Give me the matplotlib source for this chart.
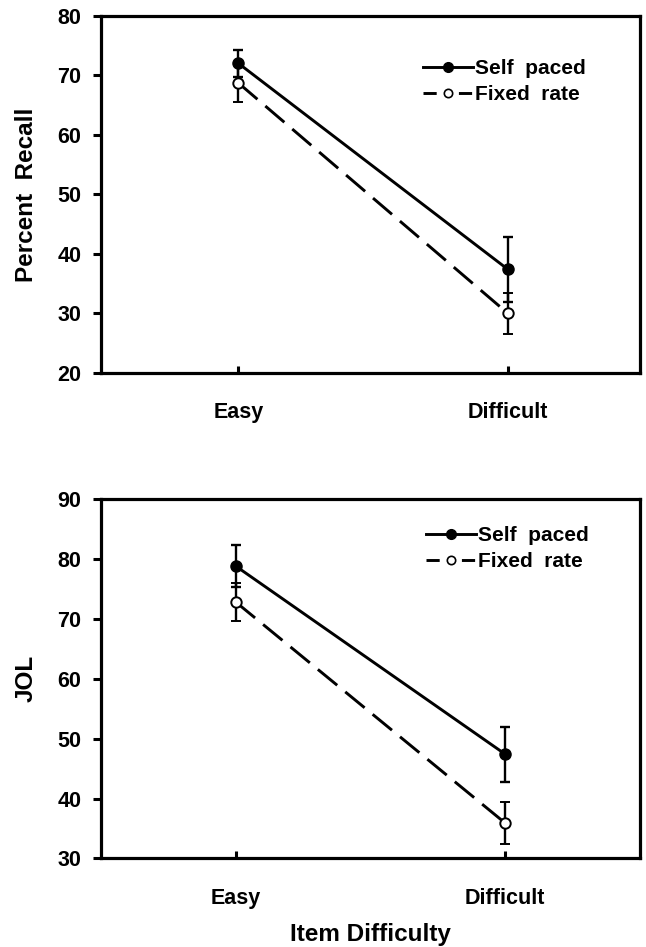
import numpy as np
import matplotlib
matplotlib.use("Agg")
import matplotlib.pyplot as plt
from matplotlib.lines import Line2D

plt.rcParams['font.family'] = ['Liberation Sans', 'DejaVu Sans']
plt.rcParams['font.weight'] = 'bold'
plt.rcParams['lines.scale_dashes'] = False

# data
conditions = ['Easy', 'Difficult']
recall_self = [72.0, 37.4]
recall_self_err = [2.3, 5.4]
recall_fixed = [68.7, 30.0]
recall_fixed_err = [3.2, 3.5]

jol_self = [78.8, 47.4]
jol_self_err = [3.5, 4.6]
jol_fixed = [72.8, 35.9]
jol_fixed_err = [3.1, 3.5]

fig = plt.figure(figsize=(6.46, 9.47), dpi=100)
ax1 = fig.add_axes([0.1563, 0.6061, 0.8344, 0.3773])
ax2 = fig.add_axes([0.1563, 0.0935, 0.8344, 0.3796])

x = np.arange(len(conditions))

def panel(ax, ys, yse, yf, yfe, ylim, ylabel, xlim, leg_anchor):
    ax.errorbar(x, ys, yerr=yse, color='black', lw=2.1, marker='o', ms=8,
                mfc='black', mec='black', elinewidth=1.7, capsize=3.6,
                capthick=1.7, zorder=3)
    h2 = ax.errorbar(x, yf, yerr=yfe, color='black', lw=2.1, marker='o', ms=7.5,
                     mfc='white', mec='black', mew=1.4, elinewidth=1.7,
                     capsize=3.6, capthick=1.7, zorder=4)
    h2.lines[0].set_dashes((18, 7.5))
    ax.set_ylim(*ylim)
    ax.set_xlim(*xlim)
    ax.set_yticks(np.arange(ylim[0], ylim[1] + 1, 10))
    ax.set_xticks(x)
    ax.set_xticklabels(conditions)
    for s in ax.spines.values():
        s.set_linewidth(2.3)
    ax.tick_params(axis='y', direction='out', length=6, width=2.2, pad=8,
                   labelsize=15.5)
    ax.tick_params(axis='x', direction='in', length=5, width=2.2, pad=21,
                   labelsize=15.5)
    ax.set_ylabel(ylabel, fontsize=17.5, fontweight='bold', labelpad=14)
    # legend proxies, the fixed one with short dashes around the marker
    p1 = Line2D([], [], color='black', lw=2.1, marker='o', ms=7, mfc='black')
    p2 = Line2D([], [], color='black', lw=2.1, marker='o', ms=6, mfc='white',
                mew=1.2, dashes=(9.5, 16))
    ax.legend([p1, p2], ['Self  paced', 'Fixed  rate'], loc='center left',
              bbox_to_anchor=leg_anchor, frameon=False, fontsize=15,
              handlelength=2.4, handletextpad=0.1, labelspacing=0.35,
              borderpad=0)

panel(ax1, recall_self, recall_self_err, recall_fixed, recall_fixed_err,
      (20, 80), 'Percent  Recall', (-0.51, 1.49), (0.578, 0.815))
panel(ax2, jol_self, jol_self_err, jol_fixed, jol_fixed_err,
      (30, 90), 'JOL', (-0.5, 1.5), (0.584, 0.862))
ax2.set_xlabel('Item Difficulty', fontsize=17.5, fontweight='bold', labelpad=10)

fig.savefig('out.png', dpi=100)
